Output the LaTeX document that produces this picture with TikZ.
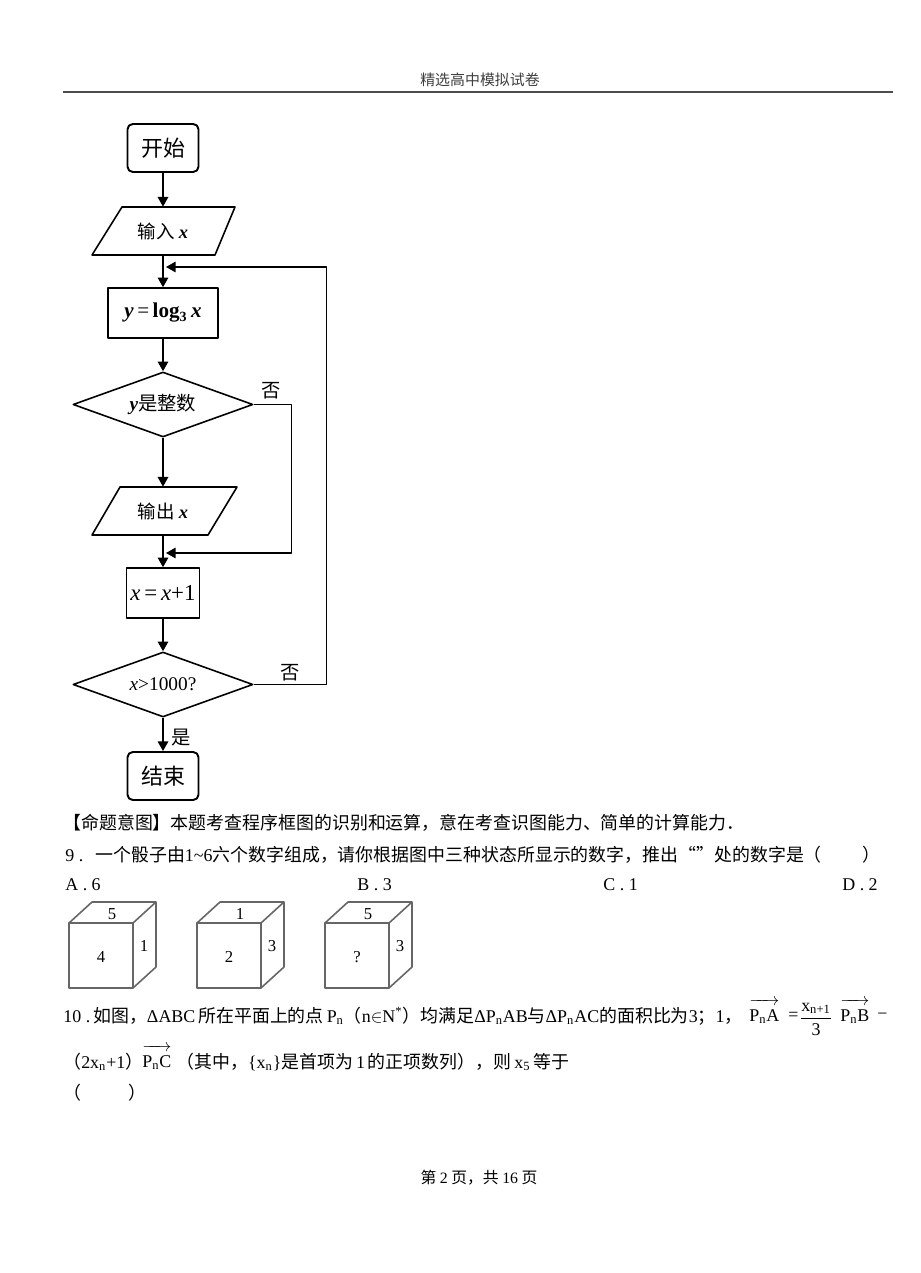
\documentclass[tikz,border=0pt]{standalone}
\usepackage{fontspec}
\setmainfont{Noto Sans CJK SC}
\newfontfamily\tnr{Liberation Serif}
\newcommand\tn[1]{{\tnr #1}}
\newcommand\vecpn[1]{$\overrightarrow{\hbox{\rule{0pt}{10pt}\tnr P\textsubscript{n}#1}}$}
\usetikzlibrary{arrows.meta,shapes.geometric}
\def\px{0.02cm}
\tikzset{
  box/.style={draw, line width=0.9pt, inner sep=0pt},
  term/.style={box, line width=1.1pt, rounded corners=3pt, minimum width=71*\px, minimum height=48*\px, font=\fontsize{12.5}{14}\selectfont},
  proc/.style={box, minimum height=50*\px, font=\fontsize{12}{14}\selectfont},
  dec/.style={box, diamond, aspect=2.8, minimum width=180*\px, minimum height=65*\px, font=\fontsize{11}{13}\selectfont},
  io/.style={inner sep=0pt, minimum width=100*\px, minimum height=48*\px, font=\fontsize{10.5}{12}\selectfont},
  flow/.style={-{Triangle[length=5.5pt,width=6pt]}, line width=0.8pt},
  lab/.style={font=\fontsize{11}{13}\selectfont},
  txt/.style={anchor=west, inner sep=0pt, font=\fontsize{10.2}{12}\selectfont},
  die/.style={draw=black!60, line width=0.9pt, line join=round},
  num/.style={inner sep=0pt, font=\fontsize{9.5}{11}\selectfont\tnr},
}
\begin{document}
\begin{tikzpicture}[x=\px, y=-\px, line join=round]
  \useasboundingbox (0,0) rectangle (920,1273);
  \fill[white] (0,0) rectangle (920,1273);
  \def\cx{163}
  % header
  \node[inner sep=0pt, font=\fontsize{8.5}{10}\selectfont, black!75] (hd) at (480,80) {精选高中模拟试卷};
  \draw[line width=1.2pt, black!70] (63,92) -- (893,92);
  % flowchart
  \node[term] (st) at (\cx,148) {开始};
  \node[io] (in) at (\cx,231) {输入\ \tn{\textbf{\textit{x}}}};
  \draw[box] (122,207) -- (235,207) -- (215,255) -- (92,255) -- cycle;
  \node[proc, minimum width=110*\px] (lg) at (\cx,313) {\tn{\textbf{\textit{y}}\,=\,\textbf{log}\textsubscript{\textbf{3}}\,\textbf{\textit{x}}}};
  \node[dec] (d1) at (\cx,404.5) {\tn{\textbf{\textit{y}}}是整数};
  \node[io] (out) at (\cx,511) {输出\ \tn{\textbf{\textit{x}}}};
  \draw[box] (120,487) -- (237,487) -- (208,535) -- (92,535) -- cycle;
  \node[proc, minimum width=73*\px, font=\fontsize{13}{15}\selectfont] (inc) at (\cx,593) {\tn{\textit{x}\,=\,\textit{x}+1}};
  \node[dec] (d2) at (\cx,684.5) {\tn{\textit{x}>1000?}};
  \node[term] (en) at (\cx,776) {结束};
  \coordinate (j1) at (166,553);
  \coordinate (j2) at (166,267);
  \draw[flow] (st) -- (in);
  \draw[flow] (in) -- (lg);
  \draw[flow] (lg) -- (d1);
  \draw[flow] (d1) -- (out);
  \draw[flow] (out) -- (inc);
  \draw[flow] (inc) -- (d2);
  \draw[flow] (d2) -- (en);
  \draw[flow] (d1.east) -- ++(38,0) |- (j1);
  \draw[flow] (d2.east) -- ++(73,0) |- (j2);
  \node[lab] (no1) at (271,391) {否};
  \node[lab] (no2) at (290,673) {否};
  \node[lab] (yes) at (181,738) {是};
  % text of the page
  \node[txt] (l1) at (63,823) {【命题意图】本题考查程序框图的识别和运算，意在考查识图能力、简单的计算能力．};
  \node[txt] (l2) at (65,855) {\tn{9\ .}\ \ \ 一个骰子由\tn{1\textasciitilde 6}六个数字组成，请你根据图中三种状态所显示的数字，推出“”处的数字是（};
  \node[txt] (p2) at (862,855) {）};
  \node[txt] (oA) at (65,885) {\tn{A\ .\ 6}};
  \node[txt] (oB) at (357,885) {\tn{B\ .\ 3}};
  \node[txt] (oC) at (603,885) {\tn{C\ .\ 1}};
  \node[txt] (oD) at (842,885) {\tn{D\ .\ 2}};
  % dice
  \foreach \fx/\tp/\fr/\rt [count=\i] in {69/5/4/1, 197/1/2/3, 325/5/?/3}{
    \draw[die] (\fx,923) rectangle ++(64,65);
    \draw[die] (\fx,923) -- ++(23,-21) -- ++(64,0) -- ++(0,65) -- ++(-23,21);
    \draw[die] (\fx+64,923) -- ++(23,-21);
    \node[num] (tp\i) at (\fx+43,914) {\tp};
    \node[num] (fr\i) at (\fx+32,957) {\fr};
    \node[num] (rt\i) at (\fx+75,946) {\rt};
  }
  % question 10
  \node[txt] (l10) at (63,1016) {\tn{10\ .}\,如图，\tn{ΔABC}\,所在平面上的点\,\tn{P\textsubscript{n}}（\tn{n}$\in$\tn{N\textsuperscript{*}}）均满足\tn{ΔP\textsubscript{n}AB}与\tn{ΔP\textsubscript{n}AC}的面积比为\tn{3}；\tn{1}，};
  \node[txt, anchor=base west] (va) at (749,1021) {\vecpn{A}};
  \node[txt] (eq) at (788,1016) {\tn{=}};
  \node[inner sep=0pt, font=\fontsize{10.2}{12}\selectfont] (fr) at (816,1019) {$\displaystyle\frac{\hbox{\tnr x\textsubscript{n+1}}}{\hbox{\tnr 3}}$};
  \node[txt, anchor=base west] (vb) at (840,1021) {\vecpn{B}};
  \node[txt] (mi) at (877,1016) {\tn{−}};
  \node[txt] (l11a) at (63,1062) {（\tn{2x\textsubscript{n}+1}）};
  \node[txt, anchor=base west] (vc) at (142,1067) {\vecpn{C}};
  \node[txt] (l11b) at (176,1062) {（其中，\tn{\{x\textsubscript{n}\}}是首项为\,\tn{1}\,的正项数列），则\,\tn{x\textsubscript{5}}\,等于};
  \node[txt] (l12a) at (63,1093) {（};
  \node[txt] (l12b) at (128,1093) {）};
  % footer
  \node[inner sep=0pt, font=\fontsize{9}{11}\selectfont] (ft) at (479,1178) {第\ \tn{2}\ 页，共\ \tn{16}\ 页};
\end{tikzpicture}
\end{document}
